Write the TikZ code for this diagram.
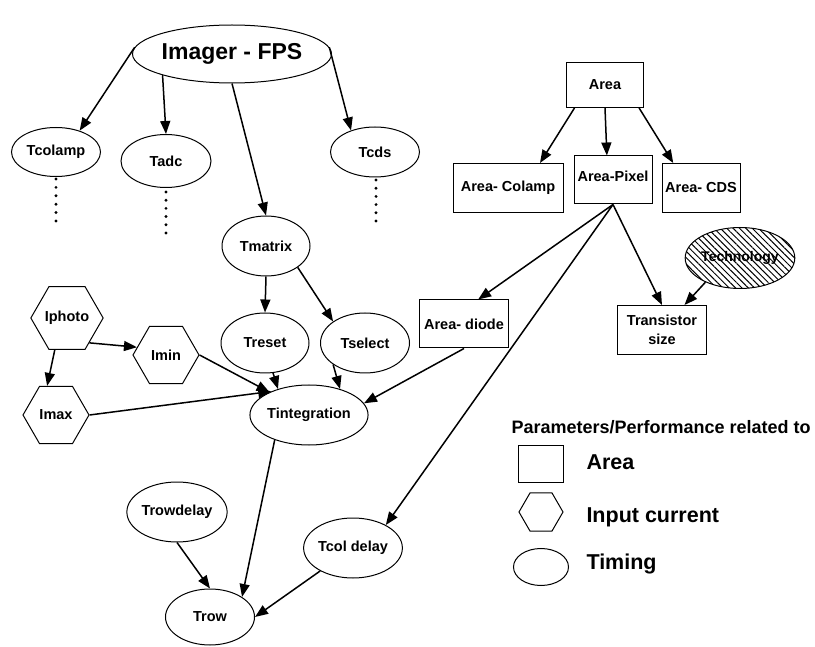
\documentclass[tikz,border=0pt]{standalone}
\usepackage{fontspec}
\setmainfont{Liberation Sans}
\usetikzlibrary{shapes.geometric,arrows.meta,patterns.meta}
\begin{document}
\begin{tikzpicture}[x=1pt,y=-1pt,
  every node/.style={font=\fontsize{14.5}{17}\selectfont\bfseries, inner sep=0pt, line width=1pt},
  tnode/.style={draw, ellipse, minimum width=89pt, minimum height=60pt},
  anode/.style={draw, rectangle},
  inode/.style={draw, regular polygon, regular polygon sides=6, minimum size=67pt},
  conn/.style={line width=1.5pt, -{Triangle[length=13pt,width=10pt]}},
  legtext/.style={font=\fontsize{21.5}{25}\selectfont\bfseries, anchor=west}
]
\useasboundingbox (0,0) rectangle (815,647);

% Imager
\node[draw, ellipse, minimum width=199pt, minimum height=58pt, font=\fontsize{23}{27}\selectfont\bfseries] (imager) at (232,54) {Imager - FPS};
\node[tnode, minimum height=49pt] (tcolamp) at (56,152) {Tcolamp};
\node[tnode, minimum width=90pt, minimum height=53pt] (tadc) at (166,161) {Tadc};
\node[tnode, minimum height=50pt] (tcds) at (375,152) {Tcds};
\node[tnode, minimum width=88pt] (tmatrix) at (266,246) {Tmatrix};
\node[tnode, minimum width=88pt] (treset) at (265,343) {Treset};
\node[tnode] (tselect) at (365,343) {Tselect};
\node[tnode, minimum width=87pt] (tint) at (309,415) {Tintegration};
\node[tnode, minimum width=88pt] (trowdelay) at (177,512) {Trowdelay};
\node[tnode] (tcoldelay) at (353,548) {Tcol delay};
\node[tnode, minimum width=89pt, minimum height=56pt] (trow) at (210,617) {Trow};

% hexagons
\node[inode] (iphoto) at (67,318) {Iphoto};
\node[inode, minimum size=66pt] (imin) at (166,355) {Imin};
\node[inode, minimum size=66pt] (imax) at (56,415) {Imax};

% area boxes
\node[anode, minimum width=77pt, minimum height=45pt] (area) at (605,85) {Area};
\node[anode, minimum width=110pt, minimum height=49pt] (areacolamp) at (508,188) {Area- Colamp};
\node[anode, minimum width=78pt, minimum height=48pt, text depth=8pt] (areapixel) at (613,180) {Area-Pixel};
\node[anode, minimum width=78pt, minimum height=49pt] (areacds) at (701,188) {Area- CDS};
\node[anode, minimum width=89pt, minimum height=48pt] (areadiode) at (464,324) {Area- diode};
\node[anode, minimum width=89pt, minimum height=49pt, align=center, font=\fontsize{14.5}{18.5}\selectfont\bfseries] (transistor) at (662,330) {Transistor\\size};
\node[draw, ellipse, minimum width=89pt, minimum height=61pt, font=\fontsize{14}{17}\selectfont\bfseries,
      pattern={Lines[angle=-45,distance=4.5pt,line width=1pt]}] (technology) at (740,258) {Technology};

% dots
\foreach \y in {179,187.4,...,222} \fill (56,\y) circle (1.6pt);
\foreach \y in {192,200.2,...,234} \fill (166,\y) circle (1.6pt);
\foreach \y in {180,188.2,...,222} \fill (376,\y) circle (1.6pt);

% connectors
\draw[conn] (imager.176) -- (tcolamp.42);
\draw[conn] (imager.197) -- (tadc.north);
\draw[conn] (imager.south) -- (tmatrix.north);
\draw[conn] (imager.4) -- (tcds.138);

\draw[conn] (area.217) -- (areacolamp.38);
\draw[conn] (area.south) -- (areapixel.104);
\draw[conn] (area.-34) -- (areacds.138);
\draw[conn] (areapixel.south) -- (areadiode.60);
\draw[conn] (areapixel.south) -- (transistor.north);
\draw[conn] (areapixel.south) -- (tcoldelay.35);
\draw[conn] (technology.215) -- (transistor.48);
\draw[conn] (areadiode.south) -- (tint.12);

\draw[conn] (tmatrix.south) -- (treset.north);
\draw[conn] (tmatrix.-34) -- (tselect.146);
\draw[conn] (iphoto.-48) -- (imin.165);
\draw[conn] (iphoto.249) -- (imax.107);
\draw[conn] (imin.east) -- (tint.150);
\draw[conn] (imax.east) -- (tint.148);
\draw[conn] (treset.-75) -- (tint.140);
\draw[conn] (tselect.214) -- (tint.40);
\draw[conn] (tint.216) -- (trow.32);
\draw[conn] (trowdelay.south) -- (trow.north);
\draw[conn] (tcoldelay.215) -- (trow.east);

% legend
\node[anchor=west, font=\fontsize{18}{21}\selectfont\bfseries] (legtitle) at (511,427) {Parameters/Performance related to};
\node[draw, rectangle, minimum width=45pt, minimum height=37pt] (legbox) at (540.5,463.5) {};
\node[legtext] (legarea) at (586,462) {Area};
\node[draw, regular polygon, regular polygon sides=6, minimum size=44pt] (leghex) at (541,512) {};
\node[legtext] (leginput) at (586,517) {Input current};
\node[draw, ellipse, minimum width=55pt, minimum height=37pt] (legell) at (541,567) {};
\node[legtext] (legtiming) at (586,564) {Timing};
\end{tikzpicture}
\end{document}
